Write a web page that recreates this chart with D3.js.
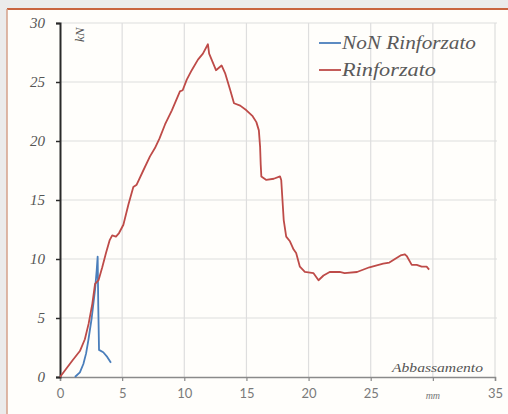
<!DOCTYPE html>
<html>
<head>
<meta charset="utf-8">
<script src="https://cdn.jsdelivr.net/npm/d3@7"></script>
<style>
html,body{margin:0;padding:0;background:#ebebeb;}
svg{display:block;}
</style>
</head>
<body>
<svg id="chart" width="508" height="414"></svg>
<script>
// ---- data ----
const xTicks = [0, 5, 10, 15, 20, 25, 30, 35];
const xTickLabels = ["0", "5", "10", "15", "20", "25", "", "35"];
const yTicks = [0, 5, 10, 15, 20, 25, 30];
const seriesNames = ["NoN Rinforzato", "Rinforzato"];
const seriesColors = ["#4a7ebb", "#be4b48"];
const xUnit = "mm";
const yUnit = "kN";
const xTitle = "Abbassamento";

const nonRinforzato = [
  [1.2,0],[1.6,0.4],[1.88,1.1],[2.1,2.0],[2.28,3.1],[2.55,5.0],[2.82,7.4],
  [2.95,9.0],[3.03,10.2],[3.08,6.0],[3.14,2.3],[3.48,2.1],[3.8,1.7],[4.1,1.2]
];
const rinforzato = [
  [0,0],[0.5,0.7],[1.0,1.4],[1.6,2.2],[2.0,3.2],[2.3,4.5],[2.6,6.2],[2.82,7.9],
  [3.1,8.2],[3.4,9.3],[3.7,10.5],[4.0,11.6],[4.2,12.0],[4.5,11.9],[4.75,12.2],
  [5.1,12.9],[5.5,14.6],[5.9,16.1],[6.17,16.3],[6.7,17.5],[7.24,18.7],[7.64,19.4],
  [8.0,20.2],[8.45,21.4],[9.0,22.6],[9.65,24.2],[9.87,24.3],[10.2,25.2],[10.6,26.0],
  [11.1,26.9],[11.5,27.4],[11.9,28.2],[12.0,27.4],[12.2,26.9],[12.55,26.0],[13.0,26.4],
  [13.3,25.7],[13.7,24.3],[14.0,23.2],[14.5,23.0],[15.0,22.6],[15.5,22.1],[15.8,21.6],
  [16.0,20.9],[16.1,19.5],[16.15,18.0],[16.2,17.0],[16.6,16.7],[17.2,16.8],[17.7,17.0],
  [17.8,16.7],[17.9,15.0],[18.0,13.3],[18.2,11.9],[18.5,11.5],[18.8,10.8],[19.0,10.5],
  [19.3,9.35],[19.7,8.9],[20.4,8.8],[20.8,8.2],[21.2,8.6],[21.7,8.9],[22.5,8.9],
  [22.9,8.8],[23.9,8.9],[24.9,9.3],[26.0,9.6],[26.5,9.7],[27.4,10.3],[27.75,10.4],
  [27.9,10.25],[28.3,9.5],[28.7,9.5],[29.1,9.35],[29.5,9.35],[29.7,9.1]
];
const allSeries = [nonRinforzato, rinforzato];

// ---- drawing ----
const svg = d3.select("#chart");
const W = 508, H = 414;

// outer frame
svg.append("rect").attr("x",0).attr("y",0).attr("width",W).attr("height",H).attr("fill","#ebebeb");
svg.append("rect").attr("x",7).attr("y",9).attr("width",W-7).attr("height",H-9).attr("fill","#fffefb");
svg.append("line").attr("x1",7).attr("x2",W).attr("y1",9).attr("y2",9)
  .attr("stroke","#c8643f").attr("stroke-width",2);
svg.append("line").attr("x1",7).attr("x2",7).attr("y1",9).attr("y2",H)
  .attr("stroke","#d5a08a").attr("stroke-width",1.5);

const x = d3.scaleLinear().domain([0,35]).range([60,495]);
const y = d3.scaleLinear().domain([0,30]).range([377,23]);

// grid
const grid = svg.append("g");
grid.selectAll("line.v").data(xTicks.filter(d=>d>0)).join("line")
  .attr("x1",d=>x(d)).attr("x2",d=>x(d)).attr("y1",y(30)).attr("y2",y(0))
  .attr("stroke","#dedede").attr("stroke-width",1.2);
grid.selectAll("line.h").data(yTicks.filter(d=>d>0)).join("line")
  .attr("x1",x(0)).attr("x2",x(35)+2).attr("y1",d=>y(d)).attr("y2",d=>y(d))
  .attr("stroke","#dedede").attr("stroke-width",1.2);

// x axis
const xAxis = d3.axisBottom(x).tickValues(xTicks).tickSize(4)
  .tickFormat((d,i)=>xTickLabels[i]);
const gx = svg.append("g").attr("transform",`translate(0,${y(0)})`).call(xAxis);
gx.select(".domain").attr("stroke","#8a8a8a").attr("stroke-width",1.5);
gx.selectAll(".tick line").attr("stroke","#8a8a8a").attr("stroke-width",1.2);
gx.selectAll(".tick text").attr("fill","#7a7a7a").attr("font-family","Lato, 'Open Sans', sans-serif")
  .attr("font-size",13).attr("dy","1.05em");

// x unit at position 30
svg.append("text").attr("x",x(30)).attr("y",399).attr("text-anchor","middle")
  .attr("font-family","'Liberation Serif', serif").attr("font-style","italic")
  .attr("font-size",10).attr("fill","#777").text(xUnit);

// y axis
const yAxis = d3.axisLeft(y).tickValues(yTicks).tickSize(4).tickFormat(d3.format("d"));
const gy = svg.append("g").attr("transform",`translate(${x(0)},0)`).call(yAxis);
gy.select(".domain").attr("stroke","#2a2a2a").attr("stroke-width",2);
gy.selectAll(".tick line").attr("stroke","#2a2a2a").attr("stroke-width",1.5);
gy.selectAll(".tick text").attr("fill","#555").attr("font-family","'Liberation Serif', serif")
  .attr("font-style","italic").attr("font-size",15).attr("x",-15);

// y unit
svg.append("text").attr("transform",`translate(84,42) rotate(-90)`)
  .attr("font-family","'Liberation Serif', serif").attr("font-style","italic")
  .attr("font-size",13).attr("fill","#555").text(yUnit);

// x title
svg.append("text").attr("x",392).attr("y",372)
  .attr("font-family","'Liberation Serif', serif").attr("font-style","italic")
  .attr("font-size",12).attr("fill","#555")
  .attr("textLength",91).attr("lengthAdjust","spacingAndGlyphs").text(xTitle);

// lines
const line = d3.line().x(d=>x(d[0])).y(d=>y(d[1]));
svg.append("g").selectAll("path").data(allSeries).join("path")
  .attr("d",line).attr("fill","none")
  .attr("stroke",(d,i)=>seriesColors[i]).attr("stroke-width",1.8)
  .attr("stroke-linejoin","round");

// legend
const legendY = [43, 70];
const legendW = [134, 94];
const lg = svg.append("g");
seriesNames.forEach((name,i)=>{
  lg.append("line").attr("x1",319).attr("x2",341).attr("y1",legendY[i]).attr("y2",legendY[i])
    .attr("stroke",seriesColors[i]).attr("stroke-width",1.8);
  lg.append("text").attr("x",342).attr("y",legendY[i]+6)
    .attr("font-family","'Liberation Serif', serif").attr("font-style","italic")
    .attr("font-size",18).attr("fill","#5a5a5a")
    .attr("textLength",legendW[i]).attr("lengthAdjust","spacingAndGlyphs").text(name);
});
</script>
</body>
</html>
